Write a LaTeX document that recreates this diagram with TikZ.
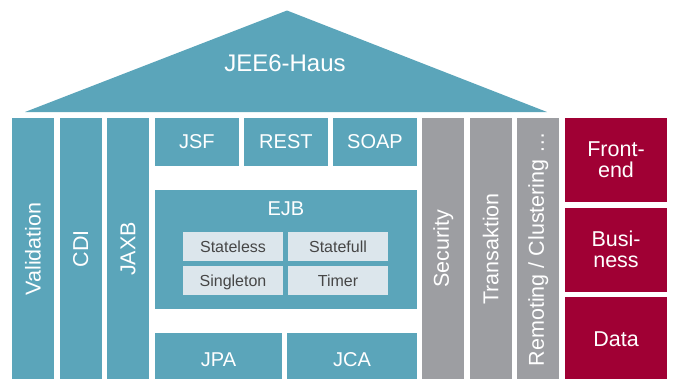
\documentclass[tikz,border=0pt]{standalone}
\usepackage{fontspec}
\setmainfont{Liberation Sans}
\usepackage{xcolor}
\usepackage{tikz}

\definecolor{jteal}{RGB}{91,165,186}
\definecolor{jgray}{RGB}{157,158,162}
\definecolor{jred}{RGB}{160,0,52}
\definecolor{jlight}{RGB}{220,230,236}
\definecolor{jdark}{RGB}{70,70,70}

\begin{document}
\begin{tikzpicture}[x=1pt, y=-1pt,
            base/.style={rectangle, inner sep=0pt, align=center, text=white, font=\fontsize{20}{21}\selectfont},
            api/.style={base, fill=jteal},
            pillar/.style={api, rotate=90, minimum width=262pt, minimum height=41.7pt, font=\fontsize{21.5}{22}\selectfont},
            service/.style={pillar, fill=jgray},
            bean/.style={base, fill=jlight, text=jdark, minimum width=99.4pt, minimum height=28.4pt, text height=11.5pt, text depth=0pt, font=\fontsize{16}{17}\selectfont},
            tier/.style={base, fill=jred, minimum width=102.6pt, minimum height=84pt, font=\fontsize{21.5}{21}\selectfont}
            ]
            \useasboundingbox (0,0) rectangle (674,378);

            % Roof
            \fill[jteal] (25,112) -- (287,10.5) -- (547,112) -- cycle;
            \node[base, font=\fontsize{24}{25}\selectfont] (roof) at (285,63) {JEE6-Haus};

            % Left pillars
            \node[pillar] (valid) at (33,249) {Validation};
            \node[pillar] (cdi) at (80.8,249) {CDI};
            \node[pillar] (jaxb) at (128.2,249) {JAXB};

            % Web layer
            \node[api, minimum width=83.6pt, minimum height=47.7pt] (jsf) at (196.8,141.9) {JSF};
            \node[api, minimum width=83.6pt, minimum height=47.7pt] (rest) at (285.9,141.9) {REST};
            \node[api, minimum width=83.6pt, minimum height=47.7pt] (soap) at (375,141.9) {SOAP};

            % EJB block with bean types
            \node[api, minimum width=261.7pt, minimum height=119.3pt] (ejb) at (285.9,249.7) {};
            \node[base] (ejbtitle) at (285.9,209) {EJB};
            \node[bean] (stateless) at (233,246.5) {Stateless};
            \node[bean] (statefull) at (338,246.5) {Statefull};
            \node[bean] (singleton) at (233,280.5) {Singleton};
            \node[bean] (timer) at (338,280.5) {Timer};

            % Persistence / connectors
            \node[api, minimum width=127pt, minimum height=52.5pt] (jpa) at (218.5,359.5) {JPA};
            \node[api, minimum width=129.4pt, minimum height=52.5pt] (jca) at (352,359.5) {JCA};

            % Right pillars
            \node[service] (sec) at (443.2,249) {Security};
            \node[service] (tx) at (490.7,249) {Transaktion};
            \node[service] (remote) at (538.2,249) {Remoting / Clustering …};

            % Tiers
            \node[tier] (front) at (616,159.9) {Front-\\end};
            \node[tier] (busi) at (616,249.7) {Busi-\\ness};
            \node[tier] (data) at (616,339.3) {Data};
        \end{tikzpicture}
\end{document}
